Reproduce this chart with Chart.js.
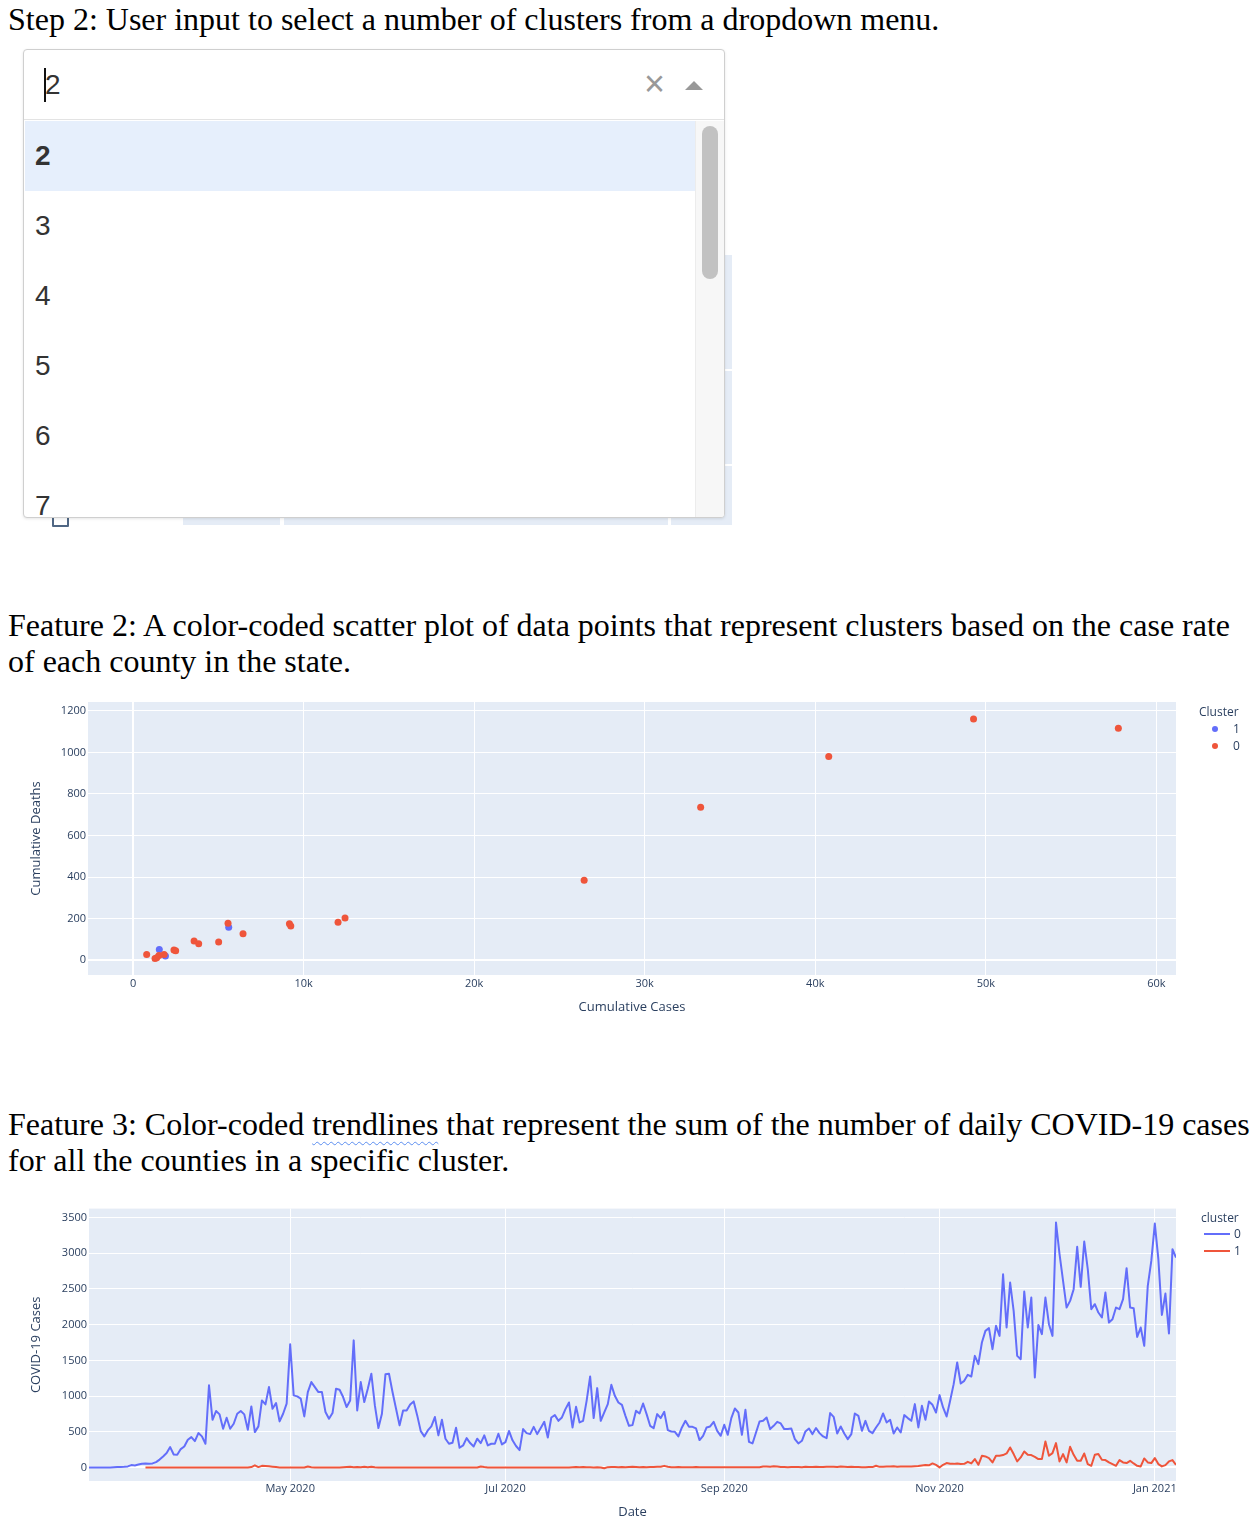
<!DOCTYPE html>
<html><head><meta charset="utf-8">
<script src="https://cdn.jsdelivr.net/npm/chart.js@4.4.1/dist/chart.umd.min.js"></script>
<style>
html,body{margin:0;padding:0;background:#fff;}
body{width:1260px;height:1532px;position:relative;overflow:hidden;}
.t{position:absolute;left:8px;font-family:"Liberation Serif","Times New Roman",serif;font-size:32px;line-height:36px;color:#000;white-space:nowrap;}
.sq{text-decoration:underline wavy #5b8ef0;text-decoration-thickness:1px;text-underline-offset:6px;}
.abs{position:absolute;}
.opt{position:absolute;left:1px;width:670px;height:70px;line-height:70px;padding-left:10px;font-family:"Liberation Sans",Arial,sans-serif;font-size:28px;color:#333;box-sizing:border-box;}
.lg{position:absolute;font-family:"Open Sans",sans-serif;font-size:12px;color:#2a3f5f;line-height:16px;white-space:nowrap;}
.chartbox{position:absolute;left:0;width:1260px;}
</style>
</head>
<body>

<div class="t" style="top:1px">Step 2: User input to select a number of clusters from a dropdown menu.</div>

<!-- partially hidden plot behind the dropdown -->
<div class="abs" style="left:183px;top:255px;width:549px;height:270px;background:#E5ECF6;"></div>
<div class="abs" style="left:183px;top:369px;width:549px;height:2px;background:#fff;"></div>
<div class="abs" style="left:183px;top:464px;width:549px;height:2px;background:#fff;"></div>
<div class="abs" style="left:280px;top:255px;width:4px;height:270px;background:#fff;"></div>
<div class="abs" style="left:668px;top:255px;width:3px;height:270px;background:#fff;"></div>
<div class="abs" style="left:52px;top:505px;width:13px;height:18px;border:2px solid #506784;border-radius:1px;"></div>

<!-- dropdown -->
<div class="abs" style="left:23px;top:49px;width:702px;height:469px;border:1px solid #cfcfcf;border-radius:4px;background:#fff;box-sizing:border-box;box-shadow:0 1px 3px rgba(0,0,0,0.10);overflow:hidden;">
  <div class="abs" style="left:0;top:0;width:700px;height:70px;border-bottom:1px solid #e3e3e3;box-sizing:border-box;"></div>
  <div class="abs" style="left:20px;top:18px;width:2px;height:34px;background:#111;"></div>
  <div class="abs" style="left:21px;top:0;height:70px;line-height:70px;font-family:'Liberation Sans',Arial,sans-serif;font-size:28px;color:#333;">2</div>
  <div class="abs" style="left:620px;top:14px;height:40px;line-height:40px;font-family:'Liberation Sans',Arial,sans-serif;font-size:36px;color:#999;">×</div>
  <div class="abs" style="left:661px;top:31px;width:0;height:0;border-left:9px solid transparent;border-right:9px solid transparent;border-bottom:9px solid #999;"></div>
  <div class="opt" style="top:71px;background:#e6effc;font-weight:bold;">2</div>
  <div class="opt" style="top:141px;">3</div>
  <div class="opt" style="top:211px;">4</div>
  <div class="opt" style="top:281px;">5</div>
  <div class="opt" style="top:351px;">6</div>
  <div class="opt" style="top:421px;">7</div>
  <div class="abs" style="left:671px;top:71px;width:29px;height:400px;background:#f7f7f7;border-left:1px solid #ececec;box-sizing:border-box;"></div>
  <div class="abs" style="left:678px;top:76px;width:16px;height:153px;background:#c2c2c2;border-radius:8px;"></div>
</div>

<div class="t" style="top:607px">Feature 2: A color-coded scatter plot of data points that represent clusters based on the case rate</div>
<div class="t" style="top:643px">of each county in the state.</div>

<div class="chartbox" style="top:690px;height:340px;"><canvas id="c1"></canvas></div>
<div class="lg" style="left:1199px;top:704px;">Cluster</div>
<div class="abs" style="left:1212px;top:726px;width:6px;height:6px;border-radius:50%;background:#636EFA;"></div>
<div class="lg" style="left:1233px;top:721px;">1</div>
<div class="abs" style="left:1212px;top:743px;width:6px;height:6px;border-radius:50%;background:#EF553B;"></div>
<div class="lg" style="left:1233px;top:738px;">0</div>

<div class="t" style="top:1106px">Feature 3: Color-coded <span class="sq">trendlines</span> that represent the sum of the number of daily COVID-19 cases</div>
<div class="t" style="top:1142px">for all the counties in a specific cluster.</div>

<div class="chartbox" style="top:1200px;height:332px;"><canvas id="c2"></canvas></div>
<div class="lg" style="left:1201px;top:1210px;">cluster</div>
<div class="abs" style="left:1204px;top:1233px;width:26px;height:2px;background:#636EFA;"></div>
<div class="lg" style="left:1234px;top:1226px;">0</div>
<div class="abs" style="left:1204px;top:1250px;width:26px;height:2px;background:#EF553B;"></div>
<div class="lg" style="left:1234px;top:1243px;">1</div>

<script>
// ---------- Scatter data (Feature 2) ----------
const cluster1Cases  = [1540, 1900, 5610];
const cluster1Deaths = [51, 19, 158];
const cluster0Cases  = [800, 1290, 1390, 1520, 1820, 2400, 2500, 3580, 3850, 5020, 5570, 6450, 9170, 9250, 12020, 12430, 26450, 33280, 40790, 49280, 57770];
const cluster0Deaths = [27, 8, 11, 22, 27, 48, 45, 92, 79, 87, 177, 127, 175, 164, 182, 202, 384, 736, 980, 1161, 1117];
const scatterXTicks = [0, 10000, 20000, 30000, 40000, 50000, 60000];
const scatterYTicks = [0, 200, 400, 600, 800, 1000, 1200];

// ---------- Daily cases (Feature 3) ----------
const cluster0Start = '2020-03-05';
const cluster0Mar = [0,0,0,0,0,0,0,3,5,5,8,14,33,28,40,51,56,51,56,75,110,154,201,285,182,178,257];
const cluster0Apr = [294,388,425,369,481,435,332,1150,668,790,743,542,696,542,612,752,790,743,528,855,495,575,939,883,1126,822,902,645,752,893];
const cluster0May = [1724,1009,995,963,715,1056,1196,1126,1056,1056,776,682,762,1103,1089,986,846,939,1780,799,1196,916,1103,1313,869,551,752,1304,1313,1056,822];
const cluster0Jun = [589,799,799,883,925,729,509,435,519,575,706,449,668,402,332,346,556,276,308,411,341,294,402,341,449,308,332,332,472,322];
const cluster0Jul = [355,511,380,300,243,537,481,467,569,467,551,639,420,700,733,653,700,817,910,560,849,630,653,933,1274,691,1111,653,770,887,1157];
const cluster0Aug = [1003,910,877,723,583,593,793,756,896,747,583,551,747,691,779,523,504,499,434,560,653,569,569,546,383,443,560,574,639,513,443];
const cluster0Sep = [597,457,691,826,770,457,807,359,336,490,644,653,700,537,583,639,616,537,537,546,397,336,373,504,546,467,551,481,434,411];
const cluster0Oct = [761,709,476,574,476,397,467,756,723,513,653,513,481,560,630,756,630,667,476,560,490,733,691,653,887,560,863,667,924,877,770];
const cluster0Nov = [1013,840,714,933,1167,1470,1176,1213,1297,1274,1563,1447,1750,1913,1951,1657,1984,1843,2707,1960,2590,2193,1563,1517,2464,1960,2380,1260,1997,1867];
const cluster0Dec = [2380,2007,1843,3430,2987,2613,2240,2333,2497,3090,2530,3164,2777,2217,2287,2170,2100,2450,2030,2077,2240,2217,2357,2791,2240,2231,1829,1960,1703,2543,2893];
const cluster0Jan = [3416,2917,2137,2436,1876,3057,2940];

const cluster1Start = '2020-03-21';
const cluster1Mar = [0,0,0,0,0,0,0,0,0,0,0];
const cluster1Apr = [0,0,0,0,0,0,0,0,0,0,0,0,0,0,0,0,0,0,0,5,30,5,22,20,15,10,5,0,0,0];
const cluster1May = [0,0,0,0,0,12,4,0,0,0,0,0,0,0,0,3,5,8,3,6,4,8,3,10,3,0,0,0,0,0,0];
const cluster1Jun = [0,0,0,0,0,0,0,0,0,0,0,0,0,0,0,0,0,0,0,0,0,0,0,12,5,0,0,0,0,0];
const cluster1Jul = [0,0,0,0,0,0,0,0,0,0,0,0,0,0,0,0,0,0,0,3,5,4,5,3,4,0,2,0,-12,4,6];
const cluster1Aug = [5,4,6,3,5,8,6,4,5,3,6,5,8,10,22,10,4,3,5,3,2,4,3,5,3,2,3,4,3,2,3];
const cluster1Sep = [2,3,2,3,2,3,2,3,2,3,4,12,14,10,15,12,5,6,4,7,5,6,4,8,6,5,9,7,6,10];
const cluster1Oct = [8,10,5,12,8,5,8,6,5,3,3,5,5,23,8,10,12,14,16,10,14,12,14,12,16,20,28,33,30,56,35];
const cluster1Nov = [0,37,61,52,50,56,47,50,79,56,117,37,163,154,131,70,163,163,173,196,280,187,84,140,224,177,173,149,117,117];
const cluster1Dec = [364,163,201,341,84,187,70,289,177,93,93,196,47,23,177,187,107,103,70,47,23,103,70,61,93,56,23,14,126,70,61];
const cluster1Jan = [131,47,14,33,84,103,37];

const lineEnd = '2021-01-07';
const lineXTickDates  = ['2020-05-01','2020-07-01','2020-09-01','2020-11-01','2021-01-01'];
const lineXTickLabels = ['May 2020','Jul 2020','Sep 2020','Nov 2020','Jan 2021'];
const lineYTicks = [0, 500, 1000, 1500, 2000, 2500, 3000, 3500];

// ---------- helpers ----------
const cluster0Values = [].concat(cluster0Mar, cluster0Apr, cluster0May, cluster0Jun, cluster0Jul, cluster0Aug, cluster0Sep, cluster0Oct, cluster0Nov, cluster0Dec, cluster0Jan);
const cluster1Values = [].concat(cluster1Mar, cluster1Apr, cluster1May, cluster1Jun, cluster1Jul, cluster1Aug, cluster1Sep, cluster1Oct, cluster1Nov, cluster1Dec, cluster1Jan);
const origin = Date.UTC(2020, 2, 5);
function dayIndex(s){ const p = s.split('-').map(Number); return Math.round((Date.UTC(p[0], p[1]-1, p[2]) - origin) / 864e5); }
function toPoints(vals, start){ const o = dayIndex(start); return vals.map((v, i) => ({x: o + i, y: v})); }

const TXT = '#2a3f5f';
Chart.defaults.font.family = '"Open Sans", sans-serif';
Chart.defaults.color = TXT;

const plotBg = {
  id: 'plotBg',
  beforeDraw(chart){
    const a = chart.chartArea, c = chart.ctx;
    c.save(); c.fillStyle = '#E5ECF6';
    c.fillRect(a.left, a.top, a.right - a.left, a.bottom - a.top);
    c.restore();
  }
};
const gridOpts = { color: '#ffffff', lineWidth: c => (c.tick && c.tick.value === 0) ? 2 : 1, drawTicks: false };
const plain = v => String(v);

// ---------- Scatter ----------
new Chart(document.getElementById('c1'), {
  type: 'scatter',
  data: { datasets: [
    { label: '1', data: cluster1Cases.map((x, i) => ({x, y: cluster1Deaths[i]})), backgroundColor: '#636EFA', borderWidth: 0, pointRadius: 3.5, order: 1 },
    { label: '0', data: cluster0Cases.map((x, i) => ({x, y: cluster0Deaths[i]})), backgroundColor: '#EF553B', borderWidth: 0, pointRadius: 3.5, order: 0 }
  ]},
  options: {
    responsive: true, maintainAspectRatio: false, animation: false, events: [],
    layout: { padding: { top: 12, right: 84, bottom: 0, left: 0 } },
    plugins: { legend: { display: false }, tooltip: { enabled: false } },
    scales: {
      x: {
        type: 'linear', min: -2640, max: 61150,
        afterBuildTicks: s => { s.ticks = scatterXTicks.map(v => ({value: v})); },
        afterFit: s => { s.height = 55; },
        ticks: { callback: v => v === 0 ? '0' : (v / 1000) + 'k', font: { size: 11 }, color: TXT, padding: 2, maxRotation: 0, autoSkip: false },
        grid: gridOpts, border: { display: false },
        title: { display: true, text: 'Cumulative Cases', font: { size: 13 }, color: TXT, padding: { top: 0, bottom: 15 } }
      },
      y: {
        type: 'linear', min: -72, max: 1243,
        afterBuildTicks: s => { s.ticks = scatterYTicks.map(v => ({value: v})); },
        afterFit: s => { s.width = 88; },
        ticks: { callback: plain, font: { size: 11 }, color: TXT, padding: 2, autoSkip: false },
        grid: gridOpts, border: { display: false },
        title: { display: true, text: 'Cumulative Deaths', font: { size: 13 }, color: TXT, padding: { top: 28, bottom: 0 } }
      }
    }
  },
  plugins: [plotBg]
});

// ---------- Line ----------
const lineTickIdx = lineXTickDates.map(dayIndex);
new Chart(document.getElementById('c2'), {
  type: 'line',
  data: { datasets: [
    { label: '0', data: toPoints(cluster0Values, cluster0Start), borderColor: '#636EFA', borderWidth: 2, pointRadius: 0, tension: 0, borderJoinStyle: 'round', fill: false, order: 1 },
    { label: '1', data: toPoints(cluster1Values, cluster1Start), borderColor: '#EF553B', borderWidth: 2, pointRadius: 0, tension: 0, borderJoinStyle: 'round', fill: false, order: 0 }
  ]},
  options: {
    responsive: true, maintainAspectRatio: false, animation: false, events: [],
    layout: { padding: { top: 8, right: 84, bottom: 0, left: 0 } },
    plugins: { legend: { display: false }, tooltip: { enabled: false } },
    scales: {
      x: {
        type: 'linear', min: 0, max: dayIndex(lineEnd),
        afterBuildTicks: s => { s.ticks = lineTickIdx.map(v => ({value: v})); },
        afterFit: s => { s.height = 51; },
        ticks: { callback: v => { const k = lineTickIdx.indexOf(v); return k >= 0 ? lineXTickLabels[k] : ''; }, font: { size: 11 }, color: TXT, padding: 1, maxRotation: 0, autoSkip: false },
        grid: { color: '#ffffff', lineWidth: 1, drawTicks: false }, border: { display: false },
        title: { display: true, text: 'Date', font: { size: 13 }, color: TXT, padding: { top: 0, bottom: 12 } }
      },
      y: {
        type: 'linear', min: -190, max: 3626,
        afterBuildTicks: s => { s.ticks = lineYTicks.map(v => ({value: v})); },
        afterFit: s => { s.width = 89; },
        ticks: { callback: plain, font: { size: 11 }, color: TXT, padding: 2, autoSkip: false },
        grid: gridOpts, border: { display: false },
        title: { display: true, text: 'COVID-19 Cases', font: { size: 13 }, color: TXT, padding: { top: 28, bottom: 0 } }
      }
    }
  },
  plugins: [plotBg]
});
</script>
</body></html>
